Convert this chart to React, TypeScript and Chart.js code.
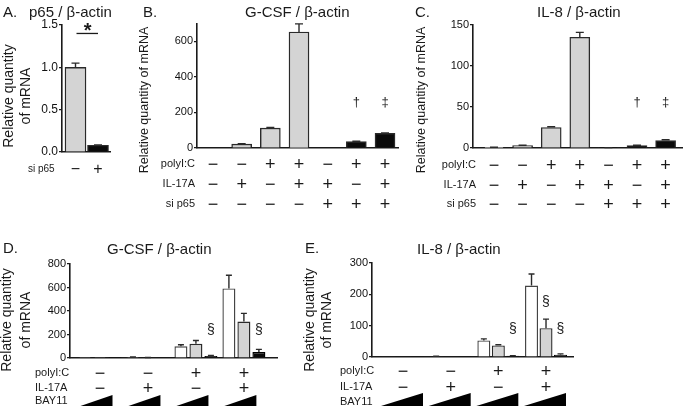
import React, { useEffect, useRef } from 'react';
import { Chart, registerables } from 'chart.js';

Chart.register(...registerables);

const FONT = '"Liberation Sans", Arial, Helvetica, sans-serif';
Chart.defaults.font.family = FONT;

const W = 684;
const H = 408;
const YW = 40;

const GRAY = '#d4d4d4';
const BLACK = '#0a0a0a';
const WHITE = '#ffffff';
const INK = '#1a1a1a';

// ---------- Panel A: p65 / β-actin ----------
const aSiP65 = ['−', '+'];
const aValues = [1.0, 0.08];
const aErrors = [0.05, 0.004];

// ---------- Panels B & C: conditions ----------
const bcPolyIC = ['−', '−', '+', '+', '−', '+', '+'];
const bcIL17A = ['−', '+', '−', '+', '+', '−', '+'];
const bcSiP65 = ['−', '−', '−', '−', '+', '+', '+'];
const bcMarks = ['', '', '', '', '', '†', '‡'];

// Panel B: G-CSF / β-actin
const bValues = [0, 22, 112, 652, 0, 36, 82];
const bErrors = [0, 2, 4, 46, 0, 2, 3];

// Panel C: IL-8 / β-actin
const cValues = [0.8, 3, 25, 135, 0.4, 3, 9];
const cErrors = [0.2, 0.4, 1, 6, 0.1, 0.4, 1];

// ---------- Panels D & E: BAY11 dose series ----------
const dePolyIC = ['−', '−', '+', '+'];
const deIL17A = ['−', '+', '−', '+'];
const bayLabels = ['BAY11 none', 'BAY11 low', 'BAY11 high'];

// Panel D: G-CSF / β-actin
const dBay0 = [1, 8, 99, 592];
const dBayLow = [1, 3, 121, 310];
const dBayHigh = [1, 2, 17, 51];
const dBay0Err = [0, 1, 14, 112];
const dBayLowErr = [0, 1, 28, 70];
const dBayHighErr = [0, 0, 5, 22];
const dMarksHigh = ['', '', '§', '§'];

// Panel E: IL-8 / β-actin
const eBay0 = [1, 2, 53, 228];
const eBayLow = [1, 1, 37, 92];
const eBayHigh = [1, 2, 4, 7];
const eBay0Err = [0, 0.5, 5, 37];
const eBayLowErr = [0, 0, 2, 29];
const eBayHighErr = [0, 0, 0.5, 3];
const eMarksLow = ['', '', '', '§'];
const eMarksHigh = ['', '', '§', '§'];

// ---------- helpers ----------
function pts(vals: number[]) {
  return vals.map((v, i) => ({ x: i + 1, y: v }));
}

function baseOptions(p: {
  left: number; right: number; top: number; bottom: number;
  xMin: number; xMax: number; yMax: number; yStep: number; tickSize: number;
  fmt?: (v: number) => string;
}): any {
  return {
    responsive: false,
    animation: false,
    events: [],
    layout: { padding: { left: p.left - YW, right: W - p.right, top: p.top, bottom: H - p.bottom } },
    plugins: { legend: { display: false }, tooltip: { enabled: false } },
    scales: {
      x: {
        type: 'linear',
        offset: false,
        min: p.xMin,
        max: p.xMax,
        ticks: { display: false, stepSize: 1, includeBounds: false },
        grid: { display: false, offset: false },
        border: { display: true, color: INK, width: 1.6 },
        afterFit: (s: any) => { s.height = 0; },
      },
      y: {
        min: 0,
        max: p.yMax,
        ticks: {
          stepSize: p.yStep,
          includeBounds: false,
          font: { size: p.tickSize, family: FONT },
          color: '#111',
          padding: 1,
          callback: (v: any) => (p.fmt ? p.fmt(Number(v)) : String(v)),
        },
        grid: { display: true, drawOnChartArea: false, drawTicks: true, tickLength: 3, color: INK, lineWidth: 1.2 },
        border: { display: true, color: INK, width: 1.6 },
        afterFit: (s: any) => { s.width = YW; },
      },
    },
  };
}

function drawErrors(chart: any, errs: number[][], cap: number) {
  const ctx = chart.ctx;
  const ys = chart.scales.y;
  ctx.save();
  ctx.strokeStyle = '#2a2a2a';
  ctx.lineWidth = 1.4;
  errs.forEach((arr, di) => {
    const meta = chart.getDatasetMeta(di);
    const data = chart.data.datasets[di].data;
    meta.data.forEach((el: any, i: number) => {
      const e = arr[i];
      if (!e) return;
      const yTop = ys.getPixelForValue(data[i].y + e);
      ctx.beginPath();
      ctx.moveTo(el.x, el.y);
      ctx.lineTo(el.x, yTop);
      ctx.moveTo(el.x - cap, yTop);
      ctx.lineTo(el.x + cap, yTop);
      ctx.stroke();
    });
  });
  ctx.restore();
}

function txt(ctx: CanvasRenderingContext2D, s: string, x: number, y: number, size: number,
  align: CanvasTextAlign = 'left', baseline: CanvasTextBaseline = 'alphabetic', weight = 'normal') {
  ctx.save();
  ctx.font = `${weight} ${size}px ${FONT}`;
  ctx.fillStyle = INK;
  ctx.textAlign = align;
  ctx.textBaseline = baseline;
  ctx.fillText(s, x, y);
  ctx.restore();
}

function vtxt(ctx: CanvasRenderingContext2D, s: string, cx: number, cy: number, size: number) {
  ctx.save();
  ctx.translate(cx, cy);
  ctx.rotate(-Math.PI / 2);
  ctx.font = `${size}px ${FONT}`;
  ctx.fillStyle = INK;
  ctx.textAlign = 'center';
  ctx.textBaseline = 'middle';
  ctx.fillText(s, 0, 0);
  ctx.restore();
}

function signRow(chart: any, label: string, signs: string[], y: number, labelX: number,
  align: CanvasTextAlign, labelSize: number, signSize: number) {
  const ctx = chart.ctx;
  const xs = chart.scales.x;
  txt(ctx, label, labelX, y, labelSize, align, 'middle');
  signs.forEach((s, i) => txt(ctx, s, xs.getPixelForValue(i + 1), y + 1, signSize, 'center', 'middle'));
}

function marks(chart: any, list: string[], di: number, value: number, size: number) {
  const ctx = chart.ctx;
  const meta = chart.getDatasetMeta(di);
  const y = chart.scales.y.getPixelForValue(value);
  list.forEach((m, i) => {
    if (!m) return;
    txt(ctx, m, meta.data[i].x, y, size, 'center', 'middle');
  });
}

function ramps(chart: any, n: number, leftOff: number, rightOff: number, top: number, bottom: number) {
  const ctx = chart.ctx;
  const xs = chart.scales.x;
  ctx.save();
  ctx.fillStyle = '#000';
  for (let i = 0; i < n; i++) {
    const c = xs.getPixelForValue(i + 1);
    ctx.beginPath();
    ctx.moveTo(c - leftOff, bottom);
    ctx.lineTo(c + rightOff, top);
    ctx.lineTo(c + rightOff, bottom);
    ctx.closePath();
    ctx.fill();
  }
  ctx.restore();
}

// ---------- chart builders ----------
function buildA(): any {
  return {
    type: 'bar',
    data: {
      datasets: [{
        label: 'p65 / β-actin',
        data: pts(aValues),
        backgroundColor: aSiP65.map((s) => (s === '+' ? BLACK : GRAY)),
        borderColor: '#2a2a2a',
        borderWidth: 1.4,
        barThickness: 21,
      }],
    },
    options: baseOptions({ left: 62, right: 110, top: 25, bottom: 152, xMin: 0.4, xMax: 2.533, yMax: 1.5, yStep: 0.5, tickSize: 12, fmt: (v) => v.toFixed(1) }),
    plugins: [{
      id: 'decorA',
      afterDraw(chart: any) {
        const ctx = chart.ctx;
        drawErrors(chart, [aErrors], 4);
        txt(ctx, 'A.', 3, 17, 15);
        txt(ctx, 'p65 / β-actin', 29, 17, 15);
        vtxt(ctx, 'Relative quantity', 9, 96, 14);
        vtxt(ctx, 'of mRNA', 26, 96, 14);
        signRow(chart, 'si p65', aSiP65, 169, 28, 'left', 10, 16);
        const xs = chart.scales.x;
        const ly = chart.scales.y.getPixelForValue(1.4);
        ctx.save();
        ctx.strokeStyle = INK;
        ctx.lineWidth = 1.3;
        ctx.beginPath();
        ctx.moveTo(xs.getPixelForValue(1) + 1, ly);
        ctx.lineTo(xs.getPixelForValue(2), ly);
        ctx.stroke();
        ctx.restore();
        txt(ctx, '*', (xs.getPixelForValue(1) + xs.getPixelForValue(2)) / 2 + 1, ly + 3.5, 20, 'center', 'alphabetic', 'bold');
      },
    }],
  };
}

function buildBC(which: 'B' | 'C'): any {
  const isB = which === 'B';
  const values = isB ? bValues : cValues;
  const errors = isB ? bErrors : cErrors;
  const geo = isB
    ? { left: 197, right: 398, top: 23.5, bottom: 148, xMin: 0.442, xMax: 7.453, yMax: 700, yStep: 200, tickSize: 11 }
    : { left: 473, right: 682, top: 25, bottom: 148, xMin: 0.266, xMax: 7.573, yMax: 150, yStep: 50, tickSize: 11 };
  return {
    type: 'bar',
    data: {
      datasets: [{
        label: isB ? 'G-CSF / β-actin' : 'IL-8 / β-actin',
        data: pts(values),
        backgroundColor: bcSiP65.map((s) => (s === '+' ? BLACK : GRAY)),
        borderColor: '#2a2a2a',
        borderWidth: 1.4,
        barThickness: 20,
      }],
    },
    options: baseOptions(geo),
    plugins: [{
      id: 'decor' + which,
      afterDraw(chart: any) {
        const ctx = chart.ctx;
        drawErrors(chart, [errors], 4);
        if (isB) {
          txt(ctx, 'B.', 143, 17, 15);
          txt(ctx, 'G-CSF / β-actin', 245, 17, 15);
          vtxt(ctx, 'Relative quantity of mRNA', 145, 100, 12.5);
        } else {
          txt(ctx, 'C.', 415, 17, 15);
          txt(ctx, 'IL-8 / β-actin', 537, 17, 15);
          vtxt(ctx, 'Relative quantity of mRNA', 422, 100, 12.5);
        }
        const lx = isB ? 195 : 476;
        const ys = isB ? [164, 184, 204] : [165, 185, 204];
        signRow(chart, 'polyI:C', bcPolyIC, ys[0], lx, 'right', 11, 18);
        signRow(chart, 'IL-17A', bcIL17A, ys[1], lx, 'right', 11, 18);
        signRow(chart, 'si p65', bcSiP65, ys[2], lx, 'right', 11, 18);
        marks(chart, bcMarks, 0, isB ? 259 : 56, 13);
      },
    }],
  };
}

function deDatasets(a: number[], b: number[], c: number[], cp: number, bp: number) {
  const cols = [WHITE, GRAY, BLACK];
  const borders = ['#444', '#2a2a2a', '#000'];
  return [a, b, c].map((vals, k) => ({
    label: bayLabels[k],
    data: pts(vals),
    backgroundColor: cols[k],
    borderColor: borders[k],
    borderWidth: 1.4,
    categoryPercentage: cp,
    barPercentage: bp,
  }));
}

function buildD(): any {
  return {
    type: 'bar',
    data: { datasets: deDatasets(dBay0, dBayLow, dBayHigh, 0.9375, 0.8667) },
    options: baseOptions({ left: 70, right: 277, top: 264, bottom: 358, xMin: 0.375, xMax: 4.69, yMax: 800, yStep: 200, tickSize: 11 }),
    plugins: [{
      id: 'decorD',
      afterDraw(chart: any) {
        const ctx = chart.ctx;
        drawErrors(chart, [dBay0Err, dBayLowErr, dBayHighErr], 3);
        txt(ctx, 'D.', 3, 253, 15);
        txt(ctx, 'G-CSF / β-actin', 107, 254, 15);
        vtxt(ctx, 'Relative quantity', 7, 320, 14);
        vtxt(ctx, 'of mRNA', 26, 320, 14);
        signRow(chart, 'polyI:C', dePolyIC, 373, 35, 'left', 11, 18);
        signRow(chart, 'IL-17A', deIL17A, 388, 35, 'left', 11, 18);
        txt(ctx, 'BAY11', 35, 401, 11, 'left', 'middle');
        ramps(chart, 4, 19.5, 12.5, 395, 406);
        marks(chart, dMarksHigh, 2, 240, 14);
      },
    }],
  };
}

function buildE(): any {
  return {
    type: 'bar',
    data: { datasets: deDatasets(eBay0, eBayLow, eBayHigh, 0.912, 0.897) },
    options: baseOptions({ left: 372, right: 573, top: 263, bottom: 357, xMin: 0.35, xMax: 4.566, yMax: 300, yStep: 100, tickSize: 11 }),
    plugins: [{
      id: 'decorE',
      afterDraw(chart: any) {
        const ctx = chart.ctx;
        drawErrors(chart, [eBay0Err, eBayLowErr, eBayHighErr], 3);
        txt(ctx, 'E.', 305, 253, 15);
        txt(ctx, 'IL-8 / β-actin', 417, 254, 15);
        vtxt(ctx, 'Relative quantity', 310, 320, 14);
        vtxt(ctx, 'of mRNA', 327, 320, 14);
        signRow(chart, 'polyI:C', dePolyIC, 371, 340, 'left', 11, 18);
        signRow(chart, 'IL-17A', deIL17A, 387, 340, 'left', 11, 18);
        txt(ctx, 'BAY11', 340, 402, 11, 'left', 'middle');
        ramps(chart, 4, 22, 20, 393, 406);
        marks(chart, eMarksLow, 1, 175, 14);
        marks(chart, eMarksHigh, 2, 89, 14);
      },
    }],
  };
}

function PanelChart({ build }: { build: () => any }) {
  const ref = useRef<HTMLCanvasElement>(null);
  useEffect(() => {
    const chart = new Chart(ref.current as HTMLCanvasElement, build());
    return () => chart.destroy();
  }, [build]);
  return (
    <canvas
      ref={ref}
      width={W}
      height={H}
      style={{ position: 'absolute', left: 0, top: 0, width: W, height: H, display: 'block' }}
    />
  );
}

const buildB = () => buildBC('B');
const buildC = () => buildBC('C');

export default function App() {
  return (
    <div style={{ position: 'absolute', left: 0, top: 0, width: W, height: H, background: '#fff', overflow: 'hidden' }}>
      <PanelChart build={buildA} />
      <PanelChart build={buildB} />
      <PanelChart build={buildC} />
      <PanelChart build={buildD} />
      <PanelChart build={buildE} />
    </div>
  );
}
